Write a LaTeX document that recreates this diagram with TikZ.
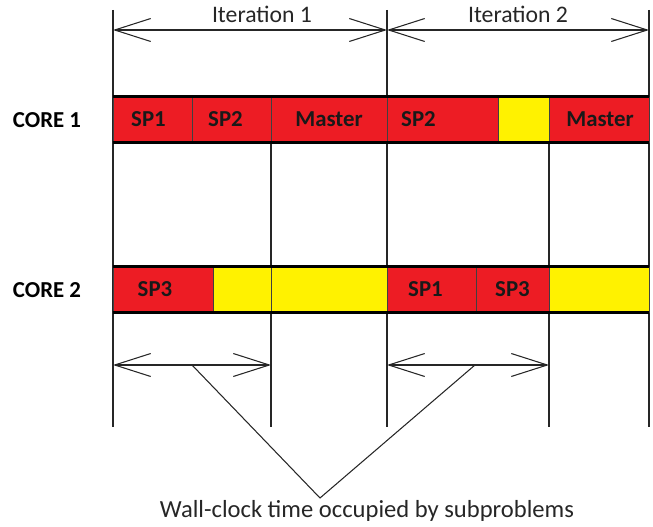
\documentclass[tikz,border=0pt]{standalone}
\usepackage{fontspec}
\setmainfont{Carlito}
\definecolor{busyred}{HTML}{ED1C24}
\definecolor{idleyellow}{HTML}{FFF200}
\usetikzlibrary{arrows.meta}
\tikzset{
  seg/.style={draw=black!75, line width=0.5pt, minimum height=0.9cm, inner sep=0pt},
  segtext/.style={font=\bfseries\fontsize{13}{15}\selectfont, text=black!90},
  busy/.style={seg, fill=busyred},
  idle/.style={seg, fill=idleyellow},
  barline/.style={line width=1.8pt, black},
  timeline/.style={line width=0.6pt, black!85},
  dimarrow/.style={line width=0.6pt, black!85,
    {Straight Barb[length=0.72cm,width=0.46cm]}-{Straight Barb[length=0.72cm,width=0.46cm]}},
  corelbl/.style={font=\bfseries\fontsize{13}{15}\selectfont},
  itlbl/.style={font=\fontsize{13.5}{16}\selectfont, text=black!85},
}

\begin{document}
\begin{tikzpicture}[x=0.02cm, y=-0.02cm]
  \useasboundingbox (0,0) rectangle (653,527);

  % time marks
  \coordinate (l-top) at (113,10);  \coordinate (l-bot) at (113,427);
  \coordinate (m-top) at (387,10);  \coordinate (m-bot) at (387,427);
  \coordinate (r-top) at (649,10);  \coordinate (r-bot) at (649,427);
  \coordinate (a-top) at (271,142); \coordinate (a-bot) at (271,427);
  \coordinate (b-top) at (549,142); \coordinate (b-bot) at (549,427);
  \foreach \n in {l,m,r,a,b}
    \draw[timeline] (\n-top) -- (\n-bot);

  % core 1
  \node[corelbl] (core1) at (47,120) {CORE 1};
  \foreach \a/\b/\s/\t/\o/\n in {113/192/busy/SP1/-4/c1sp1, 192/271/busy/SP2/-6/c1sp2,
      271/387/busy/Master/0/c1mst, 387/498/busy/SP2/-24/c1sp2b,
      498/549/idle//0/c1idle, 549/649/busy/Master/1/c1mstb}
    \node[\s, minimum width={(\b-\a)*0.02cm},
          label={[segtext, xshift=\o*0.02cm]center:\t}] (\n) at ({(\a+\b)/2},119.5) {};
  \draw[barline] (c1sp1.north west) -- (c1mstb.north east);
  \draw[barline] (c1sp1.south west) -- (c1mstb.south east);

  % core 2
  \node[corelbl] (core2) at (47,290) {CORE 2};
  \foreach \a/\b/\s/\t/\o/\n in {113/213/busy/SP3/-8/c2sp3, 213/271/idle//0/c2idle,
      271/387/idle//0/c2idleb, 387/476/busy/SP1/-6/c2sp1,
      476/549/busy/SP3/0/c2sp3b, 549/649/idle//0/c2idlec}
    \node[\s, minimum width={(\b-\a)*0.02cm},
          label={[segtext, xshift=\o*0.02cm]center:\t}] (\n) at ({(\a+\b)/2},289.5) {};
  \draw[barline] (c2sp3.north west) -- (c2idlec.north east);
  \draw[barline] (c2sp3.south west) -- (c2idlec.south east);

  % iterations
  \coordinate (it0) at (113,30);
  \coordinate (it1) at (387,30);
  \coordinate (it2) at (649,30);
  \draw[dimarrow] (it0) -- (it1);
  \draw[dimarrow] (it1) -- (it2);
  \node[itlbl] (iter1) at (262,14) {Iteration 1};
  \node[itlbl] (iter2) at (518,14) {Iteration 2};

  % wall-clock spans
  \coordinate (w0) at (113,365);
  \coordinate (w1) at (271,365);
  \coordinate (w2) at (387,365);
  \coordinate (w3) at (549,365);
  \draw[dimarrow] (w0) -- (w1);
  \draw[dimarrow] (w2) -- (w3);
  \coordinate (p1) at (192,365);
  \coordinate (p2) at (475,365);
  \coordinate (apex) at (320,498);
  \draw[timeline] (p1) -- (apex) -- (p2);
  \node[font=\fontsize{14}{16}\selectfont, text=black!85] (wall) at (367,511)
    {Wall-clock time occupied by subproblems};
\end{tikzpicture}
\end{document}
